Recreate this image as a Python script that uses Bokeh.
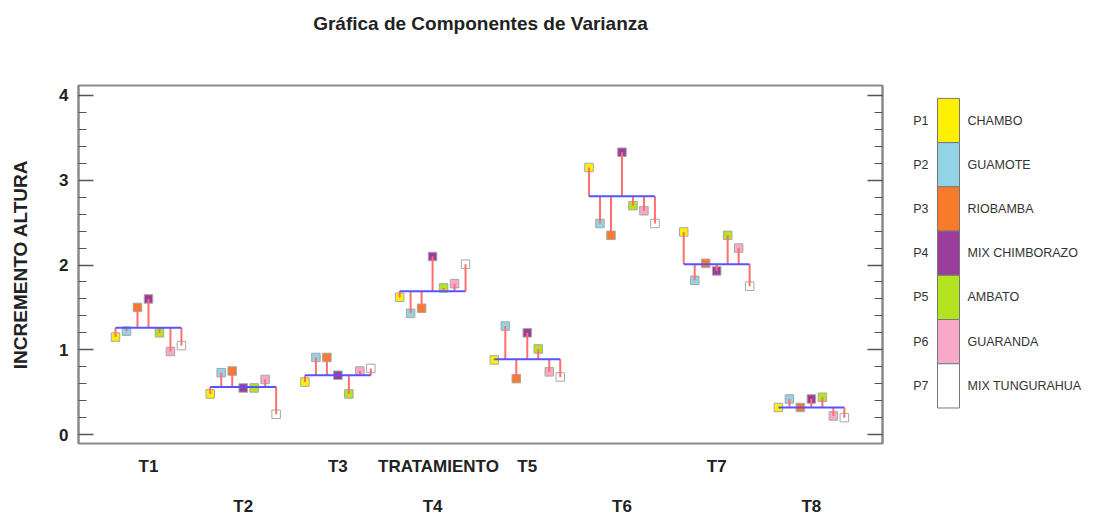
from bokeh.plotting import figure
from bokeh.models import (Range1d, LinearAxis, FixedTicker, SingleIntervalTicker,
                          ColumnDataSource)
from bokeh.layouts import row
from bokeh.embed import file_html
from bokeh.resources import INLINE
from bokeh.core.properties import value

# ---------------- data ----------------
treatments = ["T1", "T2", "T3", "T4", "T5", "T6", "T7", "T8"]
pop_codes = ["P1", "P2", "P3", "P4", "P5", "P6", "P7"]
pop_names = ["CHAMBO", "GUAMOTE", "RIOBAMBA", "MIX CHIMBORAZO",
             "AMBATO", "GUARANDA", "MIX TUNGURAHUA"]
pop_colors = ["#FFF000", "#92D3E6", "#F77B2A", "#9B3D9C",
              "#B4E31F", "#F9A9C8", "#FFFFFF"]

treatment_means = [1.26, 0.56, 0.70, 1.69, 0.89, 2.81, 2.01, 0.32]

p1_chambo = [1.15, 0.48, 0.62, 1.62, 0.88, 3.15, 2.39, 0.32]
p2_guamote = [1.22, 0.73, 0.91, 1.43, 1.28, 2.49, 1.82, 0.42]
p3_riobamba = [1.50, 0.75, 0.91, 1.49, 0.66, 2.35, 2.02, 0.32]
p4_mix_chimborazo = [1.60, 0.55, 0.70, 2.10, 1.20, 3.33, 1.93, 0.42]
p5_ambato = [1.20, 0.55, 0.48, 1.73, 1.01, 2.70, 2.35, 0.44]
p6_guaranda = [0.98, 0.65, 0.75, 1.78, 0.74, 2.64, 2.20, 0.22]
p7_mix_tungurahua = [1.05, 0.24, 0.78, 2.01, 0.68, 2.49, 1.75, 0.20]

series = [p1_chambo, p2_guamote, p3_riobamba, p4_mix_chimborazo,
          p5_ambato, p6_guaranda, p7_mix_tungurahua]

chart_title = "Gráfica de Componentes de Varianza"
x_axis_title = "TRATAMIENTO"
x_axis_title_pos = 4.062   # sits in the first row of treatment labels

FONT = "Liberation Sans"
STEP = 0.116  # horizontal spacing of populations within a treatment

# ---------------- build sources ----------------
xs, ys, ms, cs = [], [], [], []
for i, t in enumerate(treatments):
    g = i + 1
    for j, s in enumerate(series):
        xs.append(g + (j - 3) * STEP)
        ys.append(s[i])
        ms.append(treatment_means[i])
        cs.append(pop_colors[j])
pts = ColumnDataSource(dict(x=xs, y=ys, m=ms, c=cs))

gx = [i + 1 for i in range(len(treatments))]
mean_src = ColumnDataSource(dict(x0=[g - 3 * STEP for g in gx],
                                 x1=[g + 3 * STEP for g in gx],
                                 y=treatment_means))

H = 518
TOP, BOTTOM = 85, 72

# ---------------- main figure ----------------
p = figure(width=898, height=H,
           x_range=Range1d(0.261, 8.751), y_range=Range1d(-0.105, 4.117),
           output_backend="svg", toolbar_location=None,
           x_axis_location=None, y_axis_location=None,
           min_border_left=78, min_border_right=16,
           min_border_top=TOP, min_border_bottom=BOTTOM)
p.title = None
p.grid.grid_line_color = None
p.outline_line_color = "#8a8a8a"
p.outline_line_width = 2
p.background_fill_color = "white"
p.border_fill_color = "white"

# chart title, carried by a tick-less axis above the frame
top_ax = LinearAxis(ticker=FixedTicker(ticks=[]), axis_label=chart_title,
                    axis_line_color=None, major_tick_line_color=None,
                    minor_tick_line_color=None, major_tick_out=0, major_tick_in=0,
                    minor_tick_out=0, minor_tick_in=0, major_label_standoff=0,
                    axis_label_standoff=52)
top_ax.axis_label_text_font = FONT
top_ax.axis_label_text_font_size = "19px"
top_ax.axis_label_text_font_style = "bold"
top_ax.axis_label_text_color = "#222222"
p.add_layout(top_ax, "above")

# y axes
yl = LinearAxis(ticker=SingleIntervalTicker(interval=1, num_minor_ticks=5),
                axis_label="INCREMENTO ALTURA")
yr = LinearAxis(ticker=SingleIntervalTicker(interval=1, num_minor_ticks=5))
for ax in (yl, yr):
    ax.axis_line_color = "#8a8a8a"
    ax.axis_line_width = 2
    ax.major_tick_in = 15
    ax.major_tick_out = 0
    ax.minor_tick_in = 8
    ax.minor_tick_out = 0
    ax.major_tick_line_color = "#555555"
    ax.minor_tick_line_color = "#555555"
    ax.major_tick_line_width = 1.5
    ax.minor_tick_line_width = 1.2
yl.major_label_text_font = FONT
yl.major_label_text_font_size = "17px"
yl.major_label_text_font_style = "bold"
yl.major_label_text_color = "#222222"
yl.major_label_standoff = 10
yl.axis_label_text_font = FONT
yl.axis_label_text_font_size = "19px"
yl.axis_label_text_font_style = "bold"
yl.axis_label_text_color = "#222222"
yl.axis_label_standoff = 25
yr.major_label_text_color = None
yr.major_label_standoff = 0
p.add_layout(yl, "left")
p.add_layout(yr, "right")

# x axes (staggered treatment labels)
odd = [g for g in gx if g % 2 == 1]
even = [g for g in gx if g % 2 == 0]
ov1 = {g: treatments[g - 1] for g in odd}
ov1[x_axis_title_pos] = x_axis_title
xa1 = LinearAxis(ticker=FixedTicker(ticks=sorted(odd + [x_axis_title_pos])),
                 major_label_overrides=ov1)
xa2 = LinearAxis(ticker=FixedTicker(ticks=even),
                 major_label_overrides={g: treatments[g - 1] for g in even})
for ax in (xa1, xa2):
    ax.axis_line_color = None
    ax.major_tick_line_color = None
    ax.minor_tick_line_color = None
    ax.major_tick_out = 0
    ax.major_tick_in = 0
    ax.major_label_text_font = FONT
    ax.major_label_text_font_size = "17px"
    ax.major_label_text_font_style = "bold"
    ax.major_label_text_color = "#222222"
xa1.major_label_standoff = 13
xa2.major_label_standoff = 18
p.add_layout(xa1, "below")
p.add_layout(xa2, "below")

# glyphs
p.scatter("x", "y", source=pts, marker="square", size=8.5, fill_color="c",
          line_color="#a8a8a8", line_width=1)
p.segment(x0="x", y0="m", x1="x", y1="y", source=pts, line_color="#FF6F6F",
          line_width=2)
p.segment(x0="x0", y0="y", x1="x1", y1="y", source=mean_src,
          line_color="#5555FF", line_width=2)

# ---------------- legend figure ----------------
# its frame is aligned with the main frame (page y 85..446)
W2 = 200
FR = H - TOP - BOTTOM
leg = figure(width=W2, height=H, x_range=Range1d(0, W2), y_range=Range1d(0, FR),
             output_backend="svg", toolbar_location=None,
             x_axis_location=None, y_axis_location=None,
             min_border_left=0, min_border_right=0,
             min_border_top=TOP, min_border_bottom=BOTTOM,
             outline_line_color=None)
leg.title = None
leg.grid.grid_line_color = None
leg.background_fill_color = "white"
leg.border_fill_color = "white"

cell_h = 44.6
top0 = FR - 13
tops = [top0 - k * cell_h for k in range(len(pop_codes))]
bots = [t - cell_h for t in tops]
mids = [t - cell_h / 2 for t in tops]
leg.quad(left=39, right=61, top=tops, bottom=bots, fill_color=pop_colors,
         line_color="#777777", line_width=1)
leg.text(x=30, y=mids, text=pop_codes, text_align="right", text_baseline="middle",
         text_font=value(FONT), text_font_size="12.5px", text_color="#333333")
leg.text(x=69, y=mids, text=pop_names, text_align="left", text_baseline="middle",
         text_font=value(FONT), text_font_size="12.5px", text_color="#333333")

layout = row(p, leg, spacing=0)
open("out.html", "w").write(file_html(layout, INLINE))
